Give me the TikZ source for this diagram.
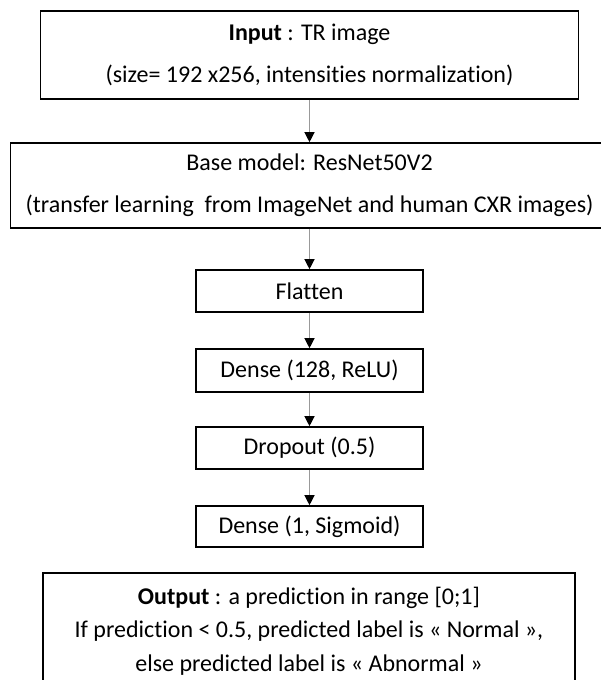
\documentclass[tikz,border=0pt]{standalone}
\usepackage{fontspec}
\setmainfont[Ligatures=NoCommon]{Carlito}
\usetikzlibrary{arrows.meta}
\begin{document}
\begin{tikzpicture}[x=1pt,y=-1pt,
  box/.style={draw=black, line width=1.6pt, rectangle, inner sep=0pt, align=center},
  flow/.style={draw=black!40, line width=1.2pt, -{Triangle[length=10pt,width=10pt,black]}},
  txt/.style={font=\fontsize{24}{42}\selectfont},
  otxt/.style={font=\fontsize{24}{33.5}\selectfont, align=center, inner sep=0pt}]
\useasboundingbox (0,0) rectangle (601,680);
\node[box, txt, minimum width=538pt, minimum height=88pt] (input) at (309.5,55)
  {\textbf{Input} : TR image\\(size= 192 x256, intensities normalization)};
\node[box, txt, minimum width=598pt, minimum height=85pt] (base) at (309.5,185.5)
  {Base model: ResNet50V2\\(transfer learning~ from ImageNet and human CXR images)};
\node[box, txt, minimum width=227pt, minimum height=42pt] (flat) at (309.5,291) {Flatten};
\node[box, txt, minimum width=227pt, minimum height=43pt] (d128) at (309.5,370.5) {Dense (128, ReLU)};
\node[box, txt, minimum width=227pt, minimum height=42pt] (drop) at (309.5,448) {Dropout (0.5)};
\node[box, txt, minimum width=227pt, minimum height=41pt] (d1) at (309.5,526.5) {Dense (1, Sigmoid)};
\node[box, minimum width=532pt, minimum height=130pt] (out) at (309,638) {};
\node[otxt] (outtxt) at (309,631)
  {\textbf{Output} : a prediction in range [0;1]\\If prediction < 0.5, predicted label is « Normal »,\\else predicted label is « Abnormal »};
\draw[flow] (input) -- (base);
\draw[flow] (base) -- (flat);
\draw[flow] (flat) -- (d128);
\draw[flow] (d128) -- (drop);
\draw[flow] (drop) -- (d1);
\end{tikzpicture}
\end{document}
